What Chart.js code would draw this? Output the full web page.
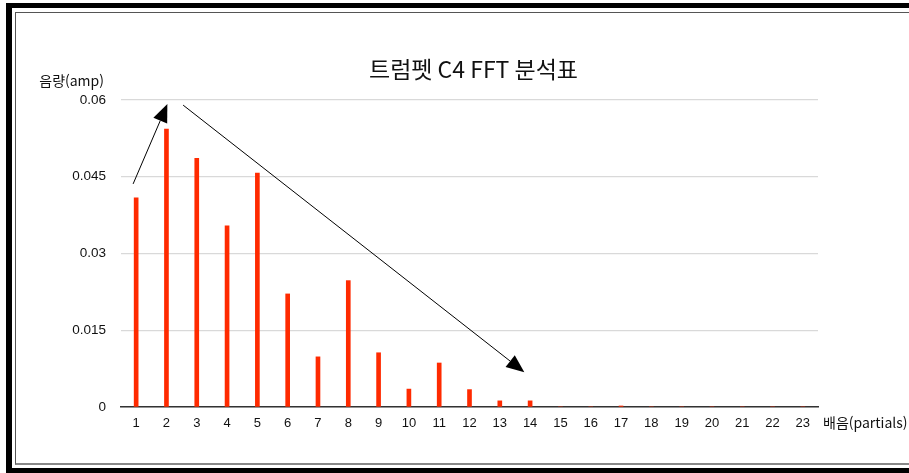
<!DOCTYPE html>
<html lang="ko">
<head>
  <meta charset="UTF-8">
  <title>트럼펫 C4 FFT 분석표</title>
  <script src="https://cdn.jsdelivr.net/npm/chart.js"></script>
  <style>
    html, body {
      margin: 0;
      padding: 0;
      width: 909px;
      height: 473px;
      overflow: hidden;
      background: #fff;
    }
    .outer {
      position: absolute;
      left: 6px;
      top: 3px;
      width: 940px;
      height: 460px;
      border-left: 6px solid #000;
      border-top: 5px solid #000;
      border-bottom: 5px solid #000;
    }
    .inner {
      position: absolute;
      left: 15px;
      top: 12px;
      width: 940px;
      height: 450px;
      border-left: 1px solid #555;
      border-top: 1px solid #555;
      border-bottom: 2px solid #888;
    }
    #wrap {
      position: absolute;
      left: 0;
      top: 0;
      width: 909px;
      height: 473px;
    }
  </style>
</head>
<body>
  <div class="outer"></div>
  <div class="inner"></div>
  <div id="wrap"><canvas id="fft"></canvas></div>

  <script>
    const partials = ["1","2","3","4","5","6","7","8","9","10","11","12","13","14","15","16","17","18","19","20","21","22","23"];
    const amps = [0.0409, 0.0543, 0.0486, 0.0354, 0.0457, 0.0221, 0.0098, 0.0247, 0.0106, 0.0035, 0.0086, 0.0034,
                  0.0012, 0.0012, 0, 0, 0.0002, 0, 0, 0, 0, 0, 0];
    const yTicks = [0, 0.015, 0.03, 0.045, 0.06];

    // annotation arrows in data units: [fromIndex, fromAmp, toIndex, toAmp]
    const arrows = [
      [-0.1, 0.0436, 1.03, 0.0592],
      [1.55, 0.0590, 12.81, 0.0068]
    ];

    const FONT = "'Liberation Sans', 'Noto Sans CJK KR', Arial, sans-serif";
    const KFONT = "'Noto Sans CJK KR', 'Liberation Sans', sans-serif";

    const extras = {
      id: 'extras',
      afterDraw(chart) {
        const { ctx, chartArea, scales } = chart;
        const x = scales.x, y = scales.y;
        ctx.save();

        // arrows
        ctx.strokeStyle = '#000';
        ctx.fillStyle = '#000';
        ctx.lineWidth = 1;
        arrows.forEach(a => {
          const x1 = x.getPixelForValue(a[0]), y1 = y.getPixelForValue(a[1]);
          const x2 = x.getPixelForValue(a[2]), y2 = y.getPixelForValue(a[3]);
          const ang = Math.atan2(y2 - y1, x2 - x1);
          const len = 18, half = 7.5;
          const bx = x2 - len * Math.cos(ang), by = y2 - len * Math.sin(ang);
          ctx.beginPath();
          ctx.moveTo(x1, y1);
          ctx.lineTo(bx, by);
          ctx.stroke();
          ctx.beginPath();
          ctx.moveTo(x2, y2);
          ctx.lineTo(bx + half * Math.sin(ang), by - half * Math.cos(ang));
          ctx.lineTo(bx - half * Math.sin(ang), by + half * Math.cos(ang));
          ctx.closePath();
          ctx.fill();
        });

        // title and axis titles
        ctx.fillStyle = '#111';
        ctx.textBaseline = 'middle';
        ctx.textAlign = 'center';
        ctx.font = '23px ' + KFONT;
        ctx.fillText('트럼펫 C4 FFT 분석표', (chartArea.left + chartArea.right) / 2 + 4, 69);

        ctx.font = '14px ' + KFONT;
        ctx.textAlign = 'right';
        ctx.fillText('음량(amp)', chartArea.left - 17, chartArea.top - 19);

        ctx.textAlign = 'left';
        ctx.fillText('배음(partials)', chartArea.right + 5, chartArea.bottom + 16);
        ctx.restore();
      }
    };

    new Chart(document.getElementById('fft'), {
      type: 'bar',
      data: {
        labels: partials,
        datasets: [{
          data: amps,
          backgroundColor: '#ff2a00',
          barThickness: 4
        }]
      },
      options: {
        responsive: true,
        maintainAspectRatio: false,
        animation: false,
        layout: { padding: { left: 0, right: 91, top: 100, bottom: 0 } },
        plugins: {
          legend: { display: false },
          tooltip: { enabled: false }
        },
        scales: {
          x: {
            grid: { display: false, drawTicks: false },
            border: { display: true, color: '#333', width: 1.5 },
            ticks: { color: '#111', font: { family: FONT, size: 13 }, padding: 9, maxRotation: 0, autoSkip: false },
            afterFit(s) { s.height = 66; }
          },
          y: {
            min: 0,
            max: 0.06,
            afterBuildTicks(s) { s.ticks = yTicks.map(v => ({ value: v })); },
            grid: { color: '#d9d9d9', lineWidth: 1.2, drawTicks: false },
            border: { display: false },
            ticks: {
              color: '#111',
              font: { family: FONT, size: 13.5 },
              padding: 15,
              callback: v => String(Number(v.toFixed(3)))
            },
            afterFit(s) { s.width = 121; }
          }
        }
      },
      plugins: [extras]
    });
  </script>
</body>
</html>
